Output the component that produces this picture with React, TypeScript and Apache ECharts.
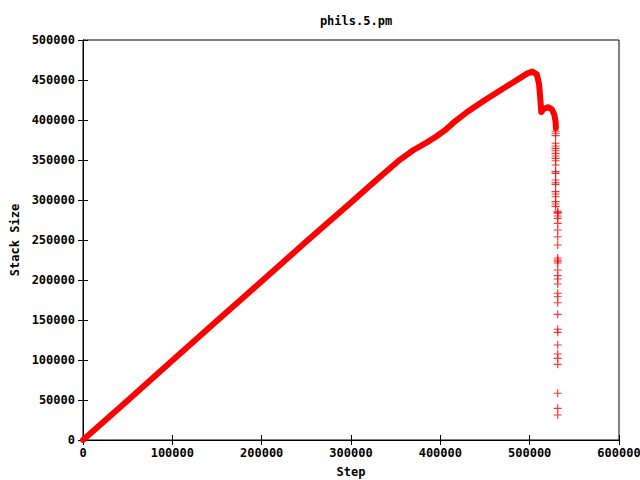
import { useEffect, useRef } from "react";
import * as echarts from "echarts";

const chartTitle = "phils.5.pm";
const xName = "Step";
const yName = "Stack Size";

// main (dense) trace
const lineSteps = [
  0, 50000, 100000, 150000, 200000, 250000, 300000, 330000, 355000, 370000,
  385000, 395000, 405000, 415000, 430000, 450000, 470000, 480000, 490000,
  497000, 503000, 508000, 510500, 512000, 513000, 515500, 521000, 525000,
  527500, 529000, 529300,
];
const lineValues = [
  0, 49500, 99500, 149000, 198500, 248000, 297000, 326500, 350500, 362500,
  372000, 379000, 387000, 397000, 410000, 425000, 439000, 446000, 453000,
  458000, 460500, 457000, 445000, 425000, 410000, 414000, 416000, 413000,
  407000, 398000, 390000,
];

// sparse points of the final drop
const dropSteps = [
  529000, 529000, 529000, 529000, 529000, 529000, 529000, 529000, 529000,
  529000, 529000, 529000, 529000, 529000, 529000, 529000, 529000, 529000,
  529000, 529000, 529000, 529000, 529000,
  531400, 531400, 531400, 531400, 531400, 531400, 531400, 531400, 531400,
  531400, 531400, 531400, 531400, 531400, 531400, 531400, 531400, 531400,
  531400, 531400, 531400, 531400, 531400, 531400, 531400, 531400, 531400,
  531400, 531400, 531400,
];
const dropValues = [
  386000, 383400, 380400, 370900, 367500, 364600, 361600, 358300, 355000,
  352100, 349100, 343750, 335400, 333300, 325000, 321600, 319600, 310400,
  307500, 304100, 297900, 295000, 292000,
  286000, 284500, 283400, 280000, 277100, 270800, 262500, 254100, 243750,
  227500, 225000, 223500, 221250, 212500, 205400, 201250, 195000, 183400,
  179100, 171600, 157100, 138400, 134600, 118750, 107500, 102100, 94600,
  58400, 39600, 31250,
];

const FONT = "DejaVu Sans Mono";
const txt = { color: "#000", fontFamily: FONT, fontWeight: "bold" as const, fontSize: 12 };
const plain = (v: number) => String(v);

export default function App() {
  const ref = useRef<HTMLDivElement>(null);
  useEffect(() => {
    if (!ref.current) return;
    const chart = echarts.init(ref.current, undefined, { renderer: "svg" });
    const axisCommon = {
      type: "value" as const,
      axisLine: { show: true, lineStyle: { color: "#000", width: 1 } },
      axisTick: { show: true, inside: true, length: 5, lineStyle: { color: "#000" } },
      splitLine: { show: false },
    };
    chart.setOption({
      animation: false,
      backgroundColor: "#fff",
      title: {
        text: chartTitle,
        left: 351,
        textAlign: "center",
        top: 10,
        textStyle: { ...txt },
      },
      grid: {
        left: 83,
        right: 21,
        top: 40,
        bottom: 40,
        containLabel: false,
        outerBoundsMode: "none",
        show: true,
        borderColor: "#000",
        borderWidth: 1,
      },
      xAxis: [
        {
          ...axisCommon,
          min: 0,
          max: 600000,
          interval: 100000,
          position: "bottom",
          axisLabel: { ...txt, margin: 7, showMaxLabel: true, formatter: plain },
          name: xName,
          nameLocation: "middle",
          nameGap: 26,
          nameTextStyle: { ...txt },
        },
        {
          ...axisCommon,
          min: 0,
          max: 600000,
          interval: 100000,
          position: "top",
          axisLabel: { show: false },
        },
      ],
      yAxis: [
        {
          ...axisCommon,
          min: 0,
          max: 500000,
          interval: 50000,
          position: "left",
          axisLabel: { ...txt, margin: 8, formatter: plain },
          name: yName,
          nameLocation: "middle",
          nameGap: 60,
          nameTextStyle: { ...txt },
        },
        {
          ...axisCommon,
          min: 0,
          max: 500000,
          interval: 50000,
          position: "right",
          axisLabel: { show: false },
        },
      ],
      series: [
        {
          type: "line",
          xAxisIndex: 0,
          yAxisIndex: 0,
          data: lineSteps.map((s, i) => [s, lineValues[i]]),
          showSymbol: false,
          symbol: "none",
          lineStyle: { color: "#ff0000", width: 6, cap: "round", join: "round" },
          silent: true,
        },
        {
          type: "scatter",
          xAxisIndex: 0,
          yAxisIndex: 0,
          data: dropSteps.map((s, i) => [s, dropValues[i]]),
          symbol: "path://M3,0H4V3H7V4H4V7H3V4H0V3H3Z",
          symbolSize: 8,
          itemStyle: { color: "#ff0000" },
          silent: true,
        },
      ],
    });
    return () => chart.dispose();
  }, []);
  return (
    <div
      ref={ref}
      style={{ position: "fixed", left: 0, top: 0, width: 640, height: 480 }}
    />
  );
}
